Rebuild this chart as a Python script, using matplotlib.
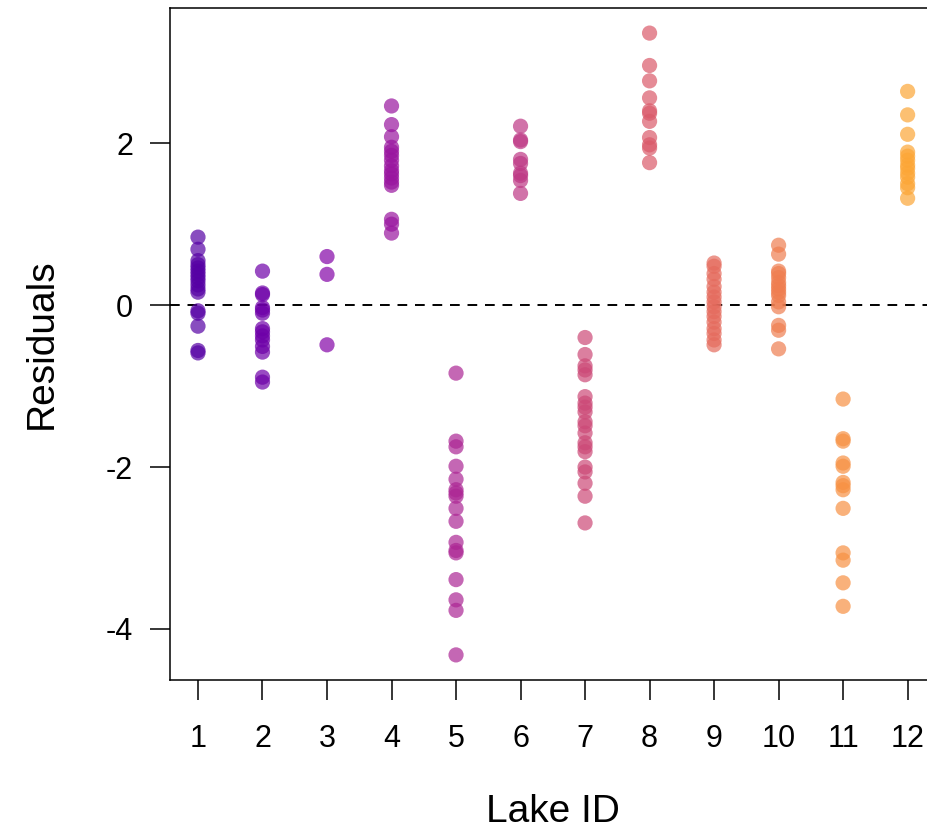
import matplotlib
matplotlib.use("Agg")
import matplotlib.pyplot as plt
import numpy as np

plt.rcParams['font.family'] = ['Liberation Sans', 'DejaVu Sans']

lake_ids = list(range(1, 13))
lake1 = [0.84, 0.69, 0.55, 0.50, 0.46, 0.42, 0.38, 0.34, 0.30, 0.25, 0.20, 0.16, -0.07, -0.10, -0.26, -0.56, -0.59]
lake2 = [0.42, 0.15, 0.13, -0.03, -0.06, -0.10, -0.29, -0.33, -0.38, -0.43, -0.51, -0.58, -0.89, -0.95]
lake3 = [0.60, 0.38, -0.49]
lake4 = [2.46, 2.23, 2.08, 1.95, 1.90, 1.85, 1.79, 1.72, 1.66, 1.62, 1.57, 1.52, 1.48, 1.06, 1.00, 0.89]
lake5 = [-0.84, -1.68, -1.75, -1.99, -2.15, -2.28, -2.32, -2.36, -2.51, -2.67, -2.93, -3.03, -3.06, -3.39, -3.64, -3.77, -4.32]
lake6 = [2.21, 2.04, 2.02, 1.80, 1.75, 1.63, 1.60, 1.54, 1.38]
lake7 = [-0.40, -0.61, -0.75, -0.80, -0.86, -1.13, -1.21, -1.26, -1.32, -1.44, -1.49, -1.58, -1.70, -1.75, -1.81, -2.00, -2.06, -2.20, -2.36, -2.69]
lake8 = [3.36, 2.96, 2.77, 2.56, 2.40, 2.37, 2.27, 2.07, 1.98, 1.94, 1.76]
lake9 = [0.52, 0.48, 0.39, 0.32, 0.23, 0.16, 0.10, 0.04, -0.02, -0.08, -0.14, -0.21, -0.29, -0.35, -0.43, -0.49]
lake10 = [0.74, 0.63, 0.42, 0.39, 0.34, 0.28, 0.24, 0.20, 0.16, 0.12, 0.04, -0.02, -0.25, -0.31, -0.54]
lake11 = [-1.16, -1.65, -1.68, -1.95, -1.99, -2.19, -2.23, -2.28, -2.51, -3.06, -3.15, -3.43, -3.72]
lake12 = [2.64, 2.35, 2.11, 1.89, 1.84, 1.79, 1.73, 1.69, 1.63, 1.58, 1.50, 1.45, 1.32]
residuals = [lake1, lake2, lake3, lake4, lake5, lake6, lake7, lake8, lake9, lake10, lake11, lake12]

colors = plt.cm.plasma(np.linspace(0.15, 0.80, 12))

fig = plt.figure(figsize=(9.28, 8.33), dpi=100)
ax = fig.add_axes([169.6 / 928, 1 - 680 / 833, (936 - 169.6) / 928, (680 - 8) / 833])

for lid, vals, c in zip(lake_ids, residuals, colors):
    ax.scatter([lid] * len(vals), vals, s=120, color=c, alpha=0.7, edgecolors='none', zorder=3)

ax.axhline(0, color='black', linewidth=1.4, linestyle=(0, (5, 4)), zorder=2)

ax.set_xlim(0.56, 12.44)
ax.set_ylim(-4.63, 3.67)
ax.set_xticks(lake_ids)
ax.set_xticklabels([str(i) for i in lake_ids])
ax.set_yticks([-4, -2, 0, 2])
ax.set_yticklabels(['-4', '-2', '0', '2'])

for sp in ax.spines.values():
    sp.set_linewidth(1.1)

ax.tick_params(axis='x', length=14.4, width=1.1, pad=17, labelsize=22)
ax.tick_params(axis='y', length=14.4, width=1.1, pad=12, labelsize=22)

ax.set_xlabel('Lake ID', fontsize=28, labelpad=29)
ax.set_ylabel('Residuals', fontsize=28, labelpad=33)

fig.savefig('out.png', dpi=100)
